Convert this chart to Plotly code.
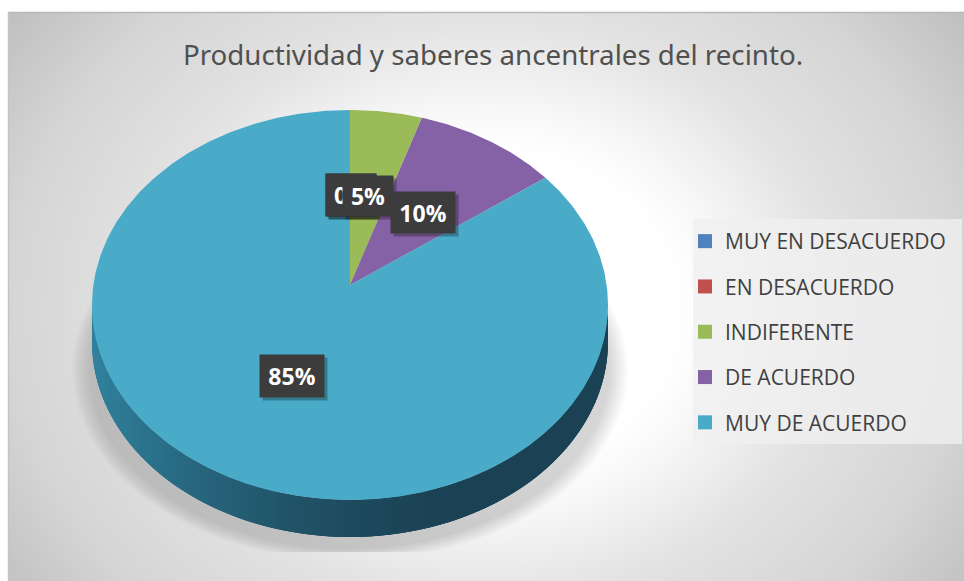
import numpy as np
import plotly.graph_objects as go

# --- data ---
categories = ["MUY EN DESACUERDO", "EN DESACUERDO", "INDIFERENTE", "DE ACUERDO", "MUY DE ACUERDO"]
values = [0, 0, 5, 10, 85]
colors = ["#4f81bd", "#c0504d", "#9bbb59", "#8561a5", "#49abc8"]
title = "Productividad y saberes ancentrales del recinto."

# --- geometry (pixels of the 964x581 page) ---
W, H = 964, 581
CX, CY, RX, RY = 350.0, 305.0, 258.0, 195.0
APEX = 20 / RY      # perspective offset of pie centre, disc units
DEPTH = 37 / RY

def ux(p): return (np.asarray(p, float) - CX) / RX
def uy(p): return (CY - np.asarray(p, float)) / RY

def ray(theta):
    """Point where a ray from the apex hits the unit disc rim."""
    dx, dy = np.sin(theta), np.cos(theta)
    s = -APEX * dy + np.sqrt((APEX * dy) ** 2 + 1 - APEX ** 2)
    return s * dx, APEX + s * dy

fig = go.Figure()

# background gradient (cell centres, so the image stops exactly at the frame)
nx, ny = 120, 80
gx = 8 + (np.arange(nx) + 0.5) * (W - 8) / nx
gy = 12 + (np.arange(ny) + 0.5) * (H - 12) / ny
XX, YY = np.meshgrid(gx, gy)
rr = np.hypot(XX - 486, (YY - 310) * 1.19)
zz = np.interp(rr, [0, 190, 238, 350, 478, 595], [255, 255, 248, 226, 213, 191])
fig.add_trace(go.Heatmap(x=ux(gx), y=uy(gy), z=zz, zmin=0, zmax=255, zsmooth="best",
                         colorscale=[[0, "#000000"], [1, "#ffffff"]], showscale=False,
                         hoverinfo="skip", showlegend=False))

# soft shadow under the pie
t = np.linspace(0, 2 * np.pi, 240)
n_sh = 14
for i in range(n_sh):
    a = 278 - 20 * i / n_sh
    b = 191 - 14 * i / n_sh
    sx = ux(350 + a * np.sin(t))
    sy = uy(np.minimum(370 + b * np.cos(t), 552))
    fig.add_trace(go.Scatter(x=sx, y=sy, mode="lines", line=dict(width=0), fill="toself",
                             fillcolor="rgba(110,95,95,0.018)", hoverinfo="skip", showlegend=False))

# side wall of the pie (shaded, overlapping strips so no seams show)
left, right = np.array([48, 130, 158]), np.array([27, 66, 84])
edges = np.linspace(np.pi / 2, 3 * np.pi / 2, 121)
step = edges[1] - edges[0]
for a, b in zip(edges[:-1], edges[1:]):
    tt = np.linspace(a, min(b + 2 * step, 3 * np.pi / 2), 6)
    xs = np.sin(tt)
    ys = np.cos(tt)
    f = ((a + b) / 2 - np.pi / 2) / np.pi     # 0 right, 1 left
    f = np.clip((f - 0.35) / 0.65, 0, 1)
    f = f * f * (3 - 2 * f)
    c = right + (left - right) * f
    col = f"rgb({c[0]:.0f},{c[1]:.0f},{c[2]:.0f})"
    fig.add_trace(go.Scatter(
        x=np.r_[xs, xs[::-1]], y=np.r_[ys, ys[::-1] - DEPTH], mode="lines",
        line=dict(width=0), fill="toself",
        fillcolor=col, hoverinfo="skip", showlegend=False))

# top surface: one wedge per non-zero value
cum = 0.0
total = sum(values)
for name, v, col in zip(categories, values, colors):
    if v == 0:
        continue
    a0, a1 = 2 * np.pi * cum / total, 2 * np.pi * (cum + v) / total
    cum += v
    th = np.linspace(a0, a1, max(8, int(v * 6)))
    rx, ry = ray(th)
    fig.add_trace(go.Scatter(x=np.r_[0, rx, 0], y=np.r_[APEX, ry, APEX], mode="lines",
                             line=dict(width=0), fill="toself", fillcolor=col,
                             name=name, hoverinfo="skip", showlegend=False))

# legend entries
for name, col in zip(categories, colors):
    fig.add_trace(go.Scatter(x=[None], y=[None], mode="markers", name=name, legendgroup=name,
                             marker=dict(symbol="square", size=14, color=col)))

shapes = [
    dict(type="rect", xref="x", yref="y", x0=ux(693), x1=ux(962), y0=uy(219), y1=uy(444),
         fillcolor="rgba(240,240,240,0.78)", line_width=0, layer="above"),
    dict(type="line", xref="x", yref="y", x0=ux(8), x1=ux(964), y0=uy(12.5), y1=uy(12.5),
         line=dict(color="#b8b8b8", width=1.5), layer="above"),
    dict(type="line", xref="x", yref="y", x0=ux(8.5), x1=ux(8.5), y0=uy(12), y1=uy(581),
         line=dict(color="#c4c4c4", width=1.5), layer="above"),
]

# value labels: (left, right, top, bottom) of each dark box in pixels
boxes = [(326, 376, 174, 216), (326, 376, 174, 216), (343, 393, 176, 216),
         (391, 455, 192, 233), (260, 324, 355, 397)]
annotations = []
for v, (l, r, tp, bt) in zip(values, boxes):
    annotations.append(dict(x=float(ux((l + r) / 2 + 3)), y=float(uy((tp + bt) / 2 + 3)), xref="x", yref="y",
                            text=" ", showarrow=False, width=r - l, height=bt - tp, borderpad=0,
                            bgcolor="rgba(0,0,0,0.28)"))
    annotations.append(dict(x=float(ux((l + r) / 2)), y=float(uy((tp + bt) / 2)), xref="x", yref="y",
                            text=f"<b>{v}%</b>", showarrow=False, width=r - l, height=bt - tp, borderpad=0,
                            bgcolor="#3c3c3c", font=dict(family="Open Sans", size=23, color="#ffffff")))

fig.update_layout(
    width=W, height=H, margin=dict(l=0, r=0, t=0, b=0),
    paper_bgcolor="#ffffff", plot_bgcolor="#ffffff",
    xaxis=dict(visible=False, range=[float(ux(0)), float(ux(W))], fixedrange=True),
    yaxis=dict(visible=False, range=[float(uy(H)), float(uy(0))], fixedrange=True),
    title=dict(text=title, x=493 / W, xanchor="center", y=1 - 55 / H, yanchor="middle",
               font=dict(family="Noto Sans", size=27.7, color="#505050")),
    legend=dict(x=685 / W, y=1 - 221 / H, xanchor="left", yanchor="top",
                bgcolor="rgba(0,0,0,0)", tracegroupgap=15,
                font=dict(family="Open Sans", size=21, color="#404040")),
    shapes=shapes, annotations=annotations,
)
fig.write_html("out.html", config={"displayModeBar": False},
               post_script="document.body.style.margin='0';document.documentElement.style.overflow='hidden';")
